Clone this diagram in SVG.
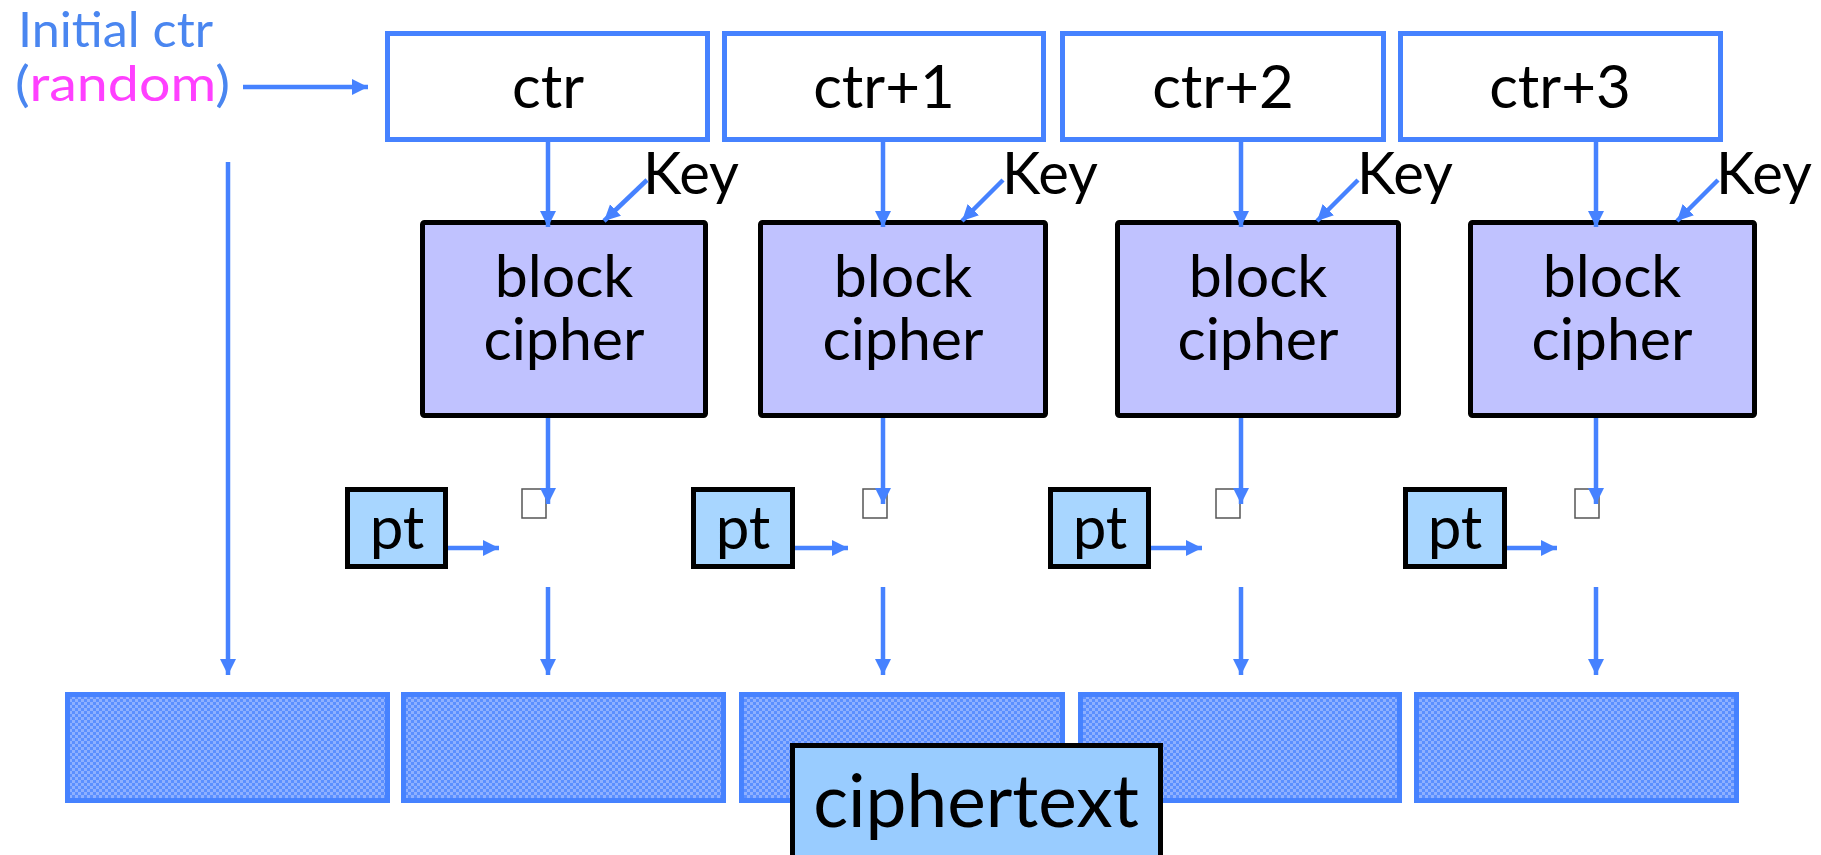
<svg xmlns="http://www.w3.org/2000/svg" width="1821" height="855" viewBox="0 0 1821 855">
<style>
text{font-family:Lato,"Open Sans","Liberation Sans",sans-serif;fill:#000}
.ctr{fill:#fff;stroke:#4682ff;stroke-width:5}
.bc{fill:#c0c2ff;stroke:#000;stroke-width:5}
.pt{fill:#a8d6ff;stroke:#000;stroke-width:5}
.cb{fill:url(#hatch);stroke:#4682ff;stroke-width:5}
.ct{fill:#99ccff;stroke:#000;stroke-width:5}
.xor{fill:#fff;stroke:#555;stroke-width:1.5}
.big{font-size:60px;text-anchor:middle}
.bl{font-size:59px;text-anchor:middle}
.key{font-size:58px}
.c{stroke:#4682ff;stroke-width:4.5;fill:none;marker-end:url(#ah)}
</style>
<defs>
<marker id="ah" markerUnits="userSpaceOnUse" markerWidth="17" markerHeight="17" refX="16" refY="8" orient="auto">
<path d="M0,0 L16,8 L0,16 z" fill="#4682ff"/>
</marker>
<pattern id="hatch" width="6" height="6" patternUnits="userSpaceOnUse">
<rect width="6" height="6" fill="#5b8fff"/>
<rect width="3" height="3" fill="#8eb0ff"/>
<rect x="3" y="3" width="3" height="3" fill="#8eb0ff"/>
</pattern>
</defs>

<g id="initial">
<text x="18" y="47" font-size="49" textLength="195" lengthAdjust="spacingAndGlyphs" style="fill:#4a86f0">Initial ctr</text>
<text x="15" y="101" font-size="49" textLength="215" lengthAdjust="spacingAndGlyphs"><tspan style="fill:#4a86f0">(</tspan><tspan style="fill:#ff40ff">random</tspan><tspan style="fill:#4a86f0">)</tspan></text>
</g>

<g id="ctr0"><rect class="ctr" x="387.5" y="33.5" width="320" height="106"/><text class="big" x="548" y="108">ctr</text></g>
<g id="ctr1"><rect class="ctr" x="724.5" y="33.5" width="319" height="106"/><text class="big" x="884" y="108">ctr+1</text></g>
<g id="ctr2"><rect class="ctr" x="1062.5" y="33.5" width="321" height="106"/><text class="big" x="1223" y="108">ctr+2</text></g>
<g id="ctr3"><rect class="ctr" x="1400.5" y="33.5" width="320" height="106"/><text class="big" x="1560" y="108">ctr+3</text></g>

<g id="key0"><text class="key" x="643" y="194">Key</text></g>
<g id="key1"><text class="key" x="1002" y="194">Key</text></g>
<g id="key2"><text class="key" x="1357" y="194">Key</text></g>
<g id="key3"><text class="key" x="1716" y="194">Key</text></g>

<g id="bc0"><rect class="bc" x="422.5" y="222.5" width="283" height="193" rx="2"/><text class="bl" x="564" y="297">block</text><text class="bl" x="564" y="360">cipher</text></g>
<g id="bc1"><rect class="bc" x="760.5" y="222.5" width="285" height="193" rx="2"/><text class="bl" x="903" y="297">block</text><text class="bl" x="903" y="360">cipher</text></g>
<g id="bc2"><rect class="bc" x="1117.5" y="222.5" width="281" height="193" rx="2"/><text class="bl" x="1258" y="297">block</text><text class="bl" x="1258" y="360">cipher</text></g>
<g id="bc3"><rect class="bc" x="1470.5" y="222.5" width="284" height="193" rx="2"/><text class="bl" x="1612" y="297">block</text><text class="bl" x="1612" y="360">cipher</text></g>

<g id="pt0"><rect class="pt" x="347.5" y="489.5" width="98" height="77"/><text class="big" x="397" y="549">pt</text></g>
<g id="pt1"><rect class="pt" x="693.5" y="489.5" width="99" height="77"/><text class="big" x="743" y="549">pt</text></g>
<g id="pt2"><rect class="pt" x="1050.5" y="489.5" width="98" height="77"/><text class="big" x="1100" y="549">pt</text></g>
<g id="pt3"><rect class="pt" x="1405.5" y="489.5" width="99" height="77"/><text class="big" x="1455" y="549">pt</text></g>

<g id="xor0"><rect class="xor" x="522" y="489" width="24" height="29"/></g>
<g id="xor1"><rect class="xor" x="863" y="489" width="24" height="29"/></g>
<g id="xor2"><rect class="xor" x="1216" y="489" width="24" height="29"/></g>
<g id="xor3"><rect class="xor" x="1575" y="489" width="24" height="29"/></g>

<g id="cblocks">
<g id="cb0"><rect class="cb" x="67.5" y="694.5" width="320" height="106"/></g>
<g id="cb1"><rect class="cb" x="403.5" y="694.5" width="320" height="106"/></g>
<g id="cb2"><rect class="cb" x="741.5" y="694.5" width="321" height="106"/></g>
<g id="cb3"><rect class="cb" x="1080.5" y="694.5" width="319" height="106"/></g>
<g id="cb4"><rect class="cb" x="1416.5" y="694.5" width="320" height="106"/></g>
</g>

<g id="ciphertext"><rect class="ct" x="792.5" y="745.5" width="368" height="130"/><text x="976" y="827" font-size="73" text-anchor="middle">ciphertext</text></g>

<g id="connectors">
<line class="c" x1="243" y1="87" x2="368" y2="87"/>
<line class="c" x1="228" y1="162" x2="228" y2="675"/>
<line class="c" x1="548" y1="142" x2="548" y2="227"/>
<line class="c" x1="883" y1="142" x2="883" y2="227"/>
<line class="c" x1="1241" y1="142" x2="1241" y2="227"/>
<line class="c" x1="1596" y1="142" x2="1596" y2="227"/>
<line class="c" x1="647" y1="180" x2="604" y2="221"/>
<line class="c" x1="1003" y1="180" x2="962" y2="221"/>
<line class="c" x1="1358" y1="180" x2="1317" y2="221"/>
<line class="c" x1="1718" y1="180" x2="1677" y2="221"/>
<line class="c" x1="548" y1="418" x2="548" y2="504"/>
<line class="c" x1="883" y1="418" x2="883" y2="504"/>
<line class="c" x1="1241" y1="418" x2="1241" y2="504"/>
<line class="c" x1="1596" y1="418" x2="1596" y2="504"/>
<line class="c" x1="448" y1="548" x2="499" y2="548"/>
<line class="c" x1="795" y1="548" x2="848" y2="548"/>
<line class="c" x1="1151" y1="548" x2="1202" y2="548"/>
<line class="c" x1="1507" y1="548" x2="1557" y2="548"/>
<line class="c" x1="548" y1="587" x2="548" y2="675"/>
<line class="c" x1="883" y1="587" x2="883" y2="675"/>
<line class="c" x1="1241" y1="587" x2="1241" y2="675"/>
<line class="c" x1="1596" y1="587" x2="1596" y2="675"/>
</g>
</svg>
